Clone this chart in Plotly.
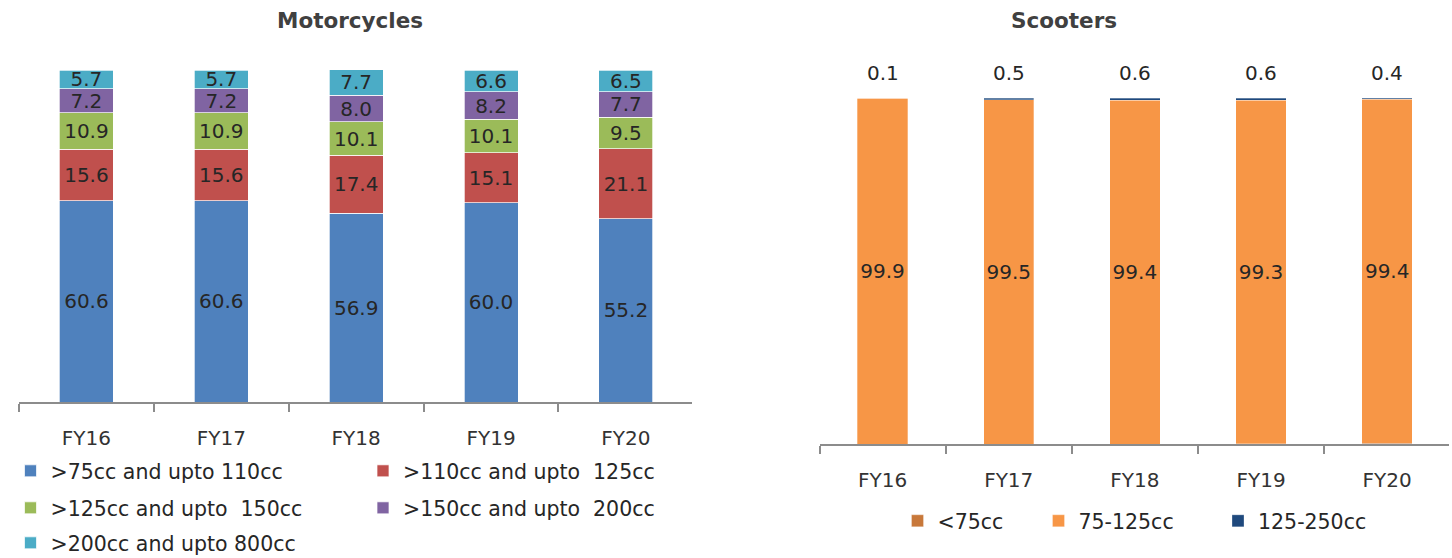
import plotly.graph_objects as go

W, H = 1452, 558

years = ["FY16", "FY17", "FY18", "FY19", "FY20"]

# Motorcycles: share of sales by engine capacity (%)
moto_names = [">75cc and upto 110cc", ">110cc and upto  125cc", ">125cc and upto  150cc",
              ">150cc and upto  200cc", ">200cc and upto 800cc"]
moto_75_110 = [60.6, 60.6, 56.9, 60.0, 55.2]
moto_110_125 = [15.6, 15.6, 17.4, 15.1, 21.1]
moto_125_150 = [10.9, 10.9, 10.1, 10.1, 9.5]
moto_150_200 = [7.2, 7.2, 8.0, 8.2, 7.7]
moto_200_800 = [5.7, 5.7, 7.7, 6.6, 6.5]
moto_colors = ["#4F81BD", "#C0504D", "#9BBB59", "#8064A2", "#4BACC6"]

# Scooters: share of sales by engine capacity (%)
scoot_names = ["<75cc", "75-125cc", "125-250cc"]
scoot_lt75 = [0.0, 0.0, 0.0, 0.1, 0.2]
scoot_75_125 = [99.9, 99.5, 99.4, 99.3, 99.4]
scoot_125_250 = [0.1, 0.5, 0.6, 0.6, 0.4]
scoot_colors = ["#C8783A", "#F79646", "#1F497D"]

FONT = "DejaVu Sans"
LBL = 20
LEG = 20.5
TXT = "#262626"
AXC = "#8C8C8C"
YMAX = 102


def px_x(p):
    return p / W


def px_y(p):
    return 1 - p / H


def ydomain(zero_px, hundred_px):
    top_px = zero_px - (zero_px - hundred_px) * YMAX / 100
    return [px_y(zero_px), px_y(top_px)]


# legend slots: (symbol centre x, row centre y) in pixels
moto_slots = [(33.5, 471), (386, 471), (33.5, 508), (386, 508), (33.5, 543)]
scoot_slots = [(920.5, 521), (1061.5, 521), (1241, 521)]

fig = go.Figure()
legends = {}
legend_common = dict(orientation="h", font=dict(family=FONT, size=LEG, color=TXT),
                     bgcolor="rgba(0,0,0,0)", xanchor="left", yanchor="middle",
                     itemclick=False, itemdoubleclick=False)


def legend_box(sx, sy):
    return dict(x=px_x(sx - 23), y=px_y(sy), **legend_common)


moto_series = [moto_75_110, moto_110_125, moto_125_150, moto_150_200, moto_200_800]
for k, (name, vals, col) in enumerate(zip(moto_names, moto_series, moto_colors)):
    lg = "legend" if k == 0 else f"legend{k + 1}"
    legends[lg] = legend_box(*moto_slots[k])
    fig.add_trace(go.Bar(
        x=years, y=vals, name=name, marker=dict(color=col, line=dict(color="white", width=0.7)),
        text=[f"{v:.1f}" for v in vals], textposition="inside", insidetextanchor="middle",
        constraintext="none", textangle=0,
        textfont=dict(family=FONT, size=LBL, color=TXT),
        xaxis="x", yaxis="y", legend=lg, width=0.4, hoverinfo="skip",
    ))

scoot_series = [scoot_lt75, scoot_75_125, scoot_125_250]
for k, (name, vals, col) in enumerate(zip(scoot_names, scoot_series, scoot_colors)):
    lg = f"legend{k + 6}"
    legends[lg] = legend_box(*scoot_slots[k])
    show_text = name == "75-125cc"
    fig.add_trace(go.Bar(
        x=years, y=vals, name=name, marker=dict(color=col, line=dict(color="white", width=0.3)),
        text=[f"{v:.1f}" for v in vals] if show_text else None,
        textposition="inside" if show_text else "none", insidetextanchor="middle",
        constraintext="none", textangle=0,
        textfont=dict(family=FONT, size=LBL, color=TXT),
        xaxis="x2", yaxis="y2", legend=lg, width=0.4, hoverinfo="skip",
    ))

annotations = []
# value of the top segment above each scooter bar
for i, yr in enumerate(years):
    total = scoot_lt75[i] + scoot_75_125[i] + scoot_125_250[i]
    annotations.append(dict(
        x=yr, y=total, xref="x2", yref="y2", text=f"{scoot_125_250[i]:.1f}",
        showarrow=False, yshift=25, font=dict(family=FONT, size=LBL, color=TXT),
    ))

for label, cx in (("Motorcycles", 350), ("Scooters", 1064)):
    annotations.append(dict(x=px_x(cx), y=px_y(21), xref="paper", yref="paper",
                            xanchor="center", yanchor="middle", text=f"<b>{label}</b>",
                            showarrow=False, font=dict(family=FONT, size=21.5, color="#404040")))

axis_common = dict(
    type="category", showline=True, linecolor=AXC, linewidth=1.5,
    ticks="outside", ticklen=8, tickwidth=1.5, tickcolor=AXC, tickson="boundaries",
    showgrid=False, zeroline=False, range=[-0.5, 4.49], automargin=False,
    tickfont=dict(family=FONT, size=LBL, color="#333333"), ticklabelstandoff=17,
)
yaxis_common = dict(range=[0, YMAX], showgrid=False, zeroline=False, showline=False,
                    showticklabels=False, ticks="", automargin=False)

fig.update_layout(
    width=W, height=H, autosize=False,
    margin=dict(l=0, r=0, t=0, b=0, autoexpand=False),
    paper_bgcolor="white", plot_bgcolor="white",
    barmode="stack",
    font=dict(family=FONT, color=TXT),
    xaxis=dict(domain=[px_x(19), px_x(692)], anchor="y", **axis_common),
    yaxis=dict(domain=ydomain(402, 70), anchor="x", **yaxis_common),
    xaxis2=dict(domain=[px_x(819.5), px_x(1449)], anchor="y2", **axis_common),
    yaxis2=dict(domain=ydomain(444, 98), anchor="x2", **yaxis_common),
    annotations=annotations,
    showlegend=True,
    **legends,
)

fig.write_html("out.html")
